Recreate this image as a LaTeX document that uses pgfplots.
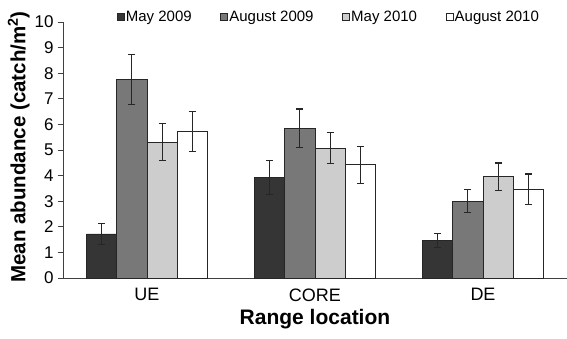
\documentclass[border=0pt]{standalone}
\usepackage{pgfplots}
\pgfplotsset{compat=1.18}
\usepackage{fontspec}
\setmainfont{Liberation Sans}
\definecolor{c1}{HTML}{353535}
\definecolor{c2}{HTML}{787878}
\definecolor{c3}{HTML}{CDCDCD}
\definecolor{c4}{HTML}{FFFFFF}
\begin{document}
\begin{tikzpicture}
\begin{axis}[
  name=ax,
  scale only axis,
  width=504pt, height=256pt,
  xmin=-0.5, xmax=2.5, ymin=0, ymax=10,
  axis x line*=bottom, axis y line*=left,
  axis line style={draw=black!75, line width=0.8pt},
  ytick={0,1,...,10},
  xtick={0,1,2}, xticklabels={UE,CORE,DE},
  extra x ticks={0.5,1.5}, extra x tick labels={},
  extra x tick style={major tick length=4pt, tick style={draw=black!75, line width=0.8pt}, tick align=outside},
  x tick style={draw=none},
  y tick style={draw=black!75, line width=0.8pt},
  tick align=outside, major tick length=5pt,
  yticklabel style={font=\fontsize{17}{19}\selectfont, xshift=-1pt},
  xticklabel style={font=\fontsize{18}{20}\selectfont, yshift=-2pt},
  /pgf/number format/assume math mode=true,
  ylabel={\textbf{Mean abundance (catch/m\textsuperscript{2})}},
  xlabel={\textbf{Range location}},
  label style={font=\fontsize{20.5}{22}\selectfont},
  ylabel style={yshift=-2pt, xshift=3pt},
  xlabel style={yshift=8pt, font=\fontsize{21}{23}\selectfont\bfseries},
  ybar, bar width=0.18,
  legend style={at={(0.527,1.0)}, anchor=south, yshift=-5pt, draw=none, fill=none,
    legend columns=4, font=\fontsize{15}{17}\selectfont,
    nodes={inner xsep=1.5pt},
    /tikz/every even column/.append style={column sep=27pt}},
  legend image code/.code={\draw[#1, line width=0.6pt] (0pt,-3.5pt) rectangle (7pt,3.5pt);},
  every axis plot/.append style={draw=black!85, line width=0.8pt,
    error bars/y dir=both, error bars/y explicit,
    error bars/error bar style={draw=black!85, line width=1.2pt},
    error bars/error mark options={rotate=90, mark size=3.5pt, draw=black!85, line width=1.2pt}},
]
\addplot[fill=c1, bar shift=-0.27] coordinates {(0,1.72) +- (0,0.4) (1,3.92) +- (0,0.67) (2,1.47) +- (0,0.27)};
\addplot[fill=c2, bar shift=-0.09] coordinates {(0,7.75) +- (0,0.98) (1,5.85) +- (0,0.75) (2,3.0) +- (0,0.45)};
\addplot[fill=c3, bar shift=0.09] coordinates {(0,5.3) +- (0,0.72) (1,5.07) +- (0,0.6) (2,3.95) +- (0,0.54)};
\addplot[fill=c4, bar shift=0.27] coordinates {(0,5.72) +- (0,0.78) (1,4.42) +- (0,0.73) (2,3.46) +- (0,0.6)};
\legend{May 2009, August 2009, May 2010, August 2010}
\end{axis}
\pgfresetboundingbox
\path ([xshift=-63pt,yshift=-60pt]ax.south west) rectangle ([yshift=22pt]ax.north east);
\end{tikzpicture}
\end{document}
